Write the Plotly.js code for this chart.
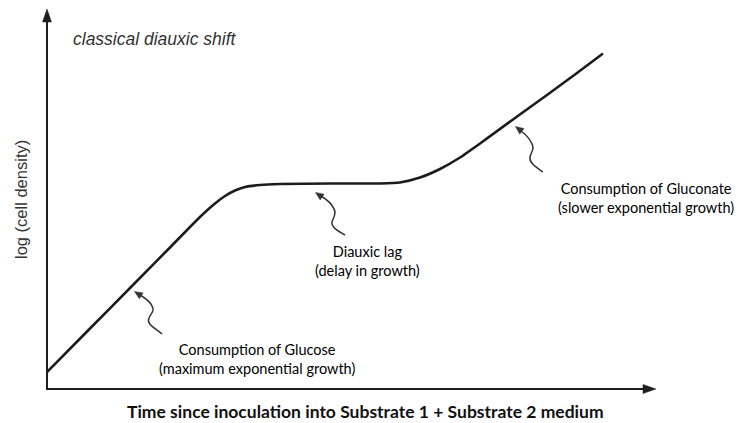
<!DOCTYPE html>
<html>
<head>
<meta charset="utf-8">
<script src="https://cdn.plot.ly/plotly-3.0.1.min.js"></script>
<style>html,body{margin:0;padding:0;background:#fff;}#chart{width:739px;height:423px;}</style>
</head>
<body>
<div id="chart"></div>
<script>
// ---- data (arbitrary units) ----
const time = [0, 0.707, 1.414, 2.023, 2.516, 2.763, 2.928, 3.092, 3.257, 3.503, 3.832, 4.655, 5.477, 5.806, 6.135, 6.464, 6.793, 7.122, 7.664, 8.224, 8.684, 9.145];
const logDensity = [0.449, 1.596, 2.744, 3.734, 4.538, 4.894, 5.092, 5.237, 5.330, 5.383, 5.409, 5.422, 5.422, 5.449, 5.580, 5.805, 6.108, 6.478, 7.111, 7.757, 8.298, 8.852];

const chartTitle = "classical diauxic shift";
const xTitle = "Time since inoculation into Substrate 1 + Substrate 2 medium";
const yTitle = "log (cell density)";
const labelGlucose = "Consumption of Glucose<br>(maximum exponential growth)";
const labelLag = "Diauxic lag<br>(delay in growth)";
const labelGluconate = "Consumption of Gluconate<br>(slower exponential growth)";

// ---- layout helpers (pixel -> paper units) ----
const L = 47, R = 655, T = 10, B = 389;
function px(x){ return (x - L) / (R - L); }
function py(y){ return (B - y) / (B - T); }
function pathFrom(segs){
  return segs.map(s => {
    let out = s[0];
    for (let i = 1; i < s.length; i += 2) out += (i > 1 ? ' ' : '') + px(s[i]).toFixed(5) + ',' + py(s[i+1]).toFixed(5);
    return out;
  }).join(' ');
}
function head(tx, ty, fx, fy, len, hw, color){
  const vx = tx - fx, vy = ty - fy, m = Math.hypot(vx, vy);
  const ux = vx / m, uy = vy / m;
  const bx = tx - ux * len, by = ty - uy * len;
  const nx = -uy, ny = ux;
  return {type:'path', xref:'paper', yref:'paper', layer:'above',
    path: pathFrom([['M', tx, ty], ['L', bx + nx*hw, by + ny*hw], ['L', bx - nx*hw, by - ny*hw], ['Z']]),
    fillcolor: color, line:{color: color, width: 0.5}};
}
function squiggle(segs){
  return {type:'path', xref:'paper', yref:'paper', layer:'above', path: pathFrom(segs),
    line:{color:'#333', width:1.5}};
}

const axisColor = '#1e1e1e';
const shapes = [
  {type:'path', xref:'paper', yref:'paper', path: pathFrom([['M', 47, 390], ['L', 47, 18]]), line:{color:axisColor, width:2}},
  {type:'path', xref:'paper', yref:'paper', path: pathFrom([['M', 46, 389], ['L', 646, 389]]), line:{color:axisColor, width:2}},
  head(47, 9, 47, 30, 13, 4.5, axisColor),
  head(656, 389, 630, 389, 13, 4.5, axisColor),
  squiggle([['M', 162, 334], ['C', 155, 328, 146, 324, 149, 318], ['C', 151, 313, 155, 311, 152, 306], ['C', 150, 301, 145, 298, 140, 295]]),
  head(134.5, 291.5, 143, 297, 8, 3.5, '#333'),
  squiggle([['M', 345, 235], ['C', 338, 231, 331, 227, 332, 222], ['C', 333, 218, 337, 214, 334, 209], ['C', 332, 204, 326, 199, 321, 196]]),
  head(315.5, 192.5, 325, 199, 8, 3.5, '#333'),
  squiggle([['M', 543, 172], ['C', 536, 167, 529, 163, 530, 157], ['C', 531, 152, 535, 149, 532, 144], ['C', 530, 139, 525, 134, 521, 131]]),
  head(515.5, 126.5, 524, 133, 8, 3.5, '#333')
];

const lblFont = {family:'Lato, "Open Sans", sans-serif', size:14.5, color:'#000'};
function ann(x, y, text, font, extra){
  return Object.assign({x: px(x), y: py(y), xref:'paper', yref:'paper', xanchor:'center', yanchor:'middle',
    showarrow:false, text: text, font: font}, extra || {});
}
const annotations = [
  ann(71, 39, '<i>' + chartTitle + '</i>', {family:'"Liberation Sans", Arial, sans-serif', size:17.5, color:'#333'}, {xanchor:'left'}),
  ann(21, 200, yTitle, {family:'"Liberation Sans", Arial, sans-serif', size:16.5, color:'#333'}, {textangle:-90}),
  ann(365, 411, '<b>' + xTitle + '</b>', {family:'Lato, "Open Sans", sans-serif', size:17.5, color:'#111'}),
  ann(257, 359, labelGlucose, lblFont),
  ann(367, 261, labelLag, lblFont),
  ann(646, 197.5, labelGluconate, lblFont)
];

const trace = {
  x: time, y: logDensity, type:'scatter', mode:'lines',
  line:{color:'#1c1c1c', width:2.6, shape:'spline', smoothing:0.5},
  hoverinfo:'skip', cliponaxis:false
};

const layout = {
  width:739, height:423,
  margin:{l:L, r:739-R, t:T, b:423-B, pad:0},
  paper_bgcolor:'#fff', plot_bgcolor:'#fff',
  showlegend:false,
  xaxis:{range:[0,10], visible:false, fixedrange:true},
  yaxis:{range:[0,10], visible:false, fixedrange:true},
  shapes: shapes,
  annotations: annotations
};

Plotly.newPlot('chart', [trace], layout, {staticPlot:true, displayModeBar:false});
</script>
</body>
</html>
